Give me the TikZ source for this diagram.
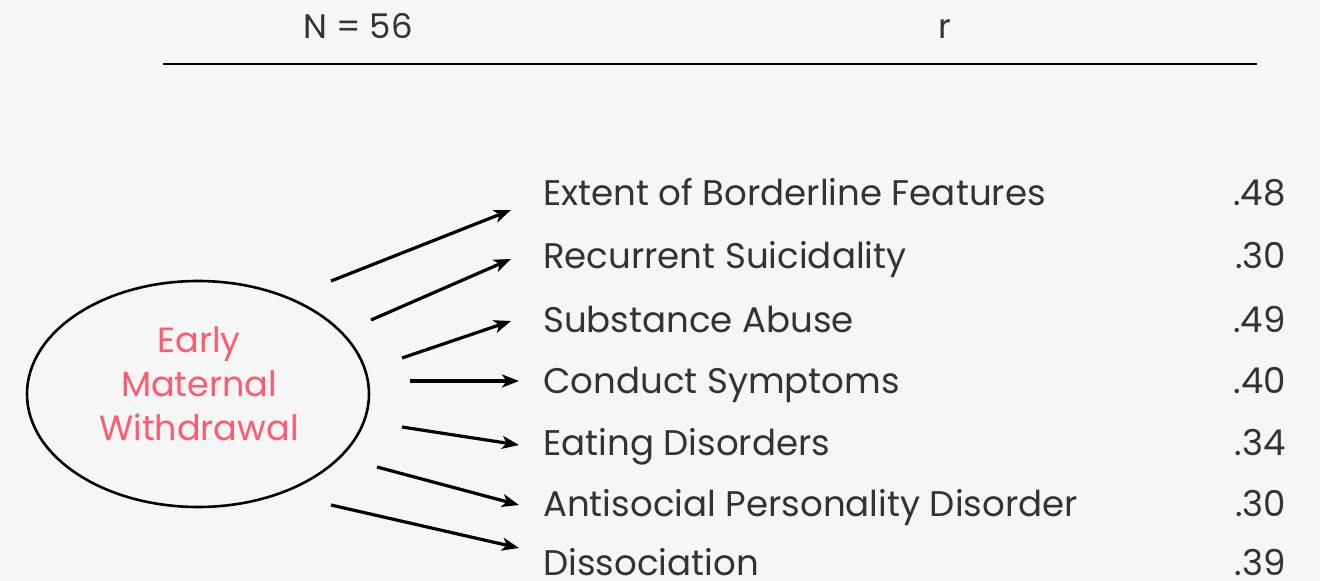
\documentclass[tikz,border=0pt]{standalone}
\usepackage{fontspec}
\setmainfont{Poppins}
\usetikzlibrary{arrows.meta,shapes.geometric}
\definecolor{bgc}{RGB}{246,246,246}
\definecolor{txt}{RGB}{51,51,51}
\definecolor{pinkred}{RGB}{255,90,110}
\tikzset{
  lbl/.style={anchor=base west,inner sep=0pt,text=txt,font=\fontsize{35.6}{40}\selectfont},
  val/.style={anchor=base east,inner sep=0pt,text=txt,font=\fontsize{35.6}{40}\selectfont},
  hdr/.style={anchor=base,inner sep=0pt,text=txt,font=\fontsize{34}{40}\selectfont},
  arr/.style={line width=3.2pt,-{Stealth[length=17pt,width=13pt,inset=4.5pt]}},
}
\begin{document}
\begin{tikzpicture}[x=1pt,y=-1pt]
\fill[bgc] (0,0) rectangle (1320,581);
\useasboundingbox (0,0) rectangle (1320,581);
\node[hdr] (n) at (358,38) {N = 56};
\node[hdr] (r) at (945,38) {r};
\coordinate (l1) at (163,64);
\coordinate (l2) at (1257,64);
\draw[line width=2.8pt] (l1) -- (l2);
\node[ellipse,draw,line width=2.6pt,minimum width=342pt,minimum height=226pt,inner sep=0pt] (e) at (198,394) {};
\node[align=center,text=pinkred,font=\fontsize{35}{44}\selectfont,inner sep=0pt] (et) at (199,384) {Early\\Maternal\\Withdrawal};
\foreach \i/\y/\t/\v in {1/205.5/Extent of Borderline Features/.48,2/268/Recurrent Suicidality/.30,3/332/Substance Abuse/.49,4/393.5/Conduct Symptoms/.40,5/455.5/Eating Disorders/.34,6/516.5/Antisocial Personality Disorder/.30,7/575.5/Dissociation/.39}{
  \node[lbl] (t\i) at (543,\y) {\t};
  \node[val] (v\i) at (1286,\y) {\v};
}
\coordinate (s1) at (331,281); \coordinate (e1) at (511,210);
\coordinate (s2) at (371,320); \coordinate (e2) at (511,259);
\coordinate (s3) at (402,358); \coordinate (e3) at (511,321);
\coordinate (s4) at (410,381); \coordinate (e4) at (519,381);
\coordinate (s5) at (402,427); \coordinate (e5) at (519,445);
\coordinate (s6) at (377,467); \coordinate (e6) at (519,505);
\coordinate (s7) at (331,505); \coordinate (e7) at (519,548);
\foreach \i in {1,...,7}{\draw[arr] (s\i) -- (e\i);}
\end{tikzpicture}
\end{document}
